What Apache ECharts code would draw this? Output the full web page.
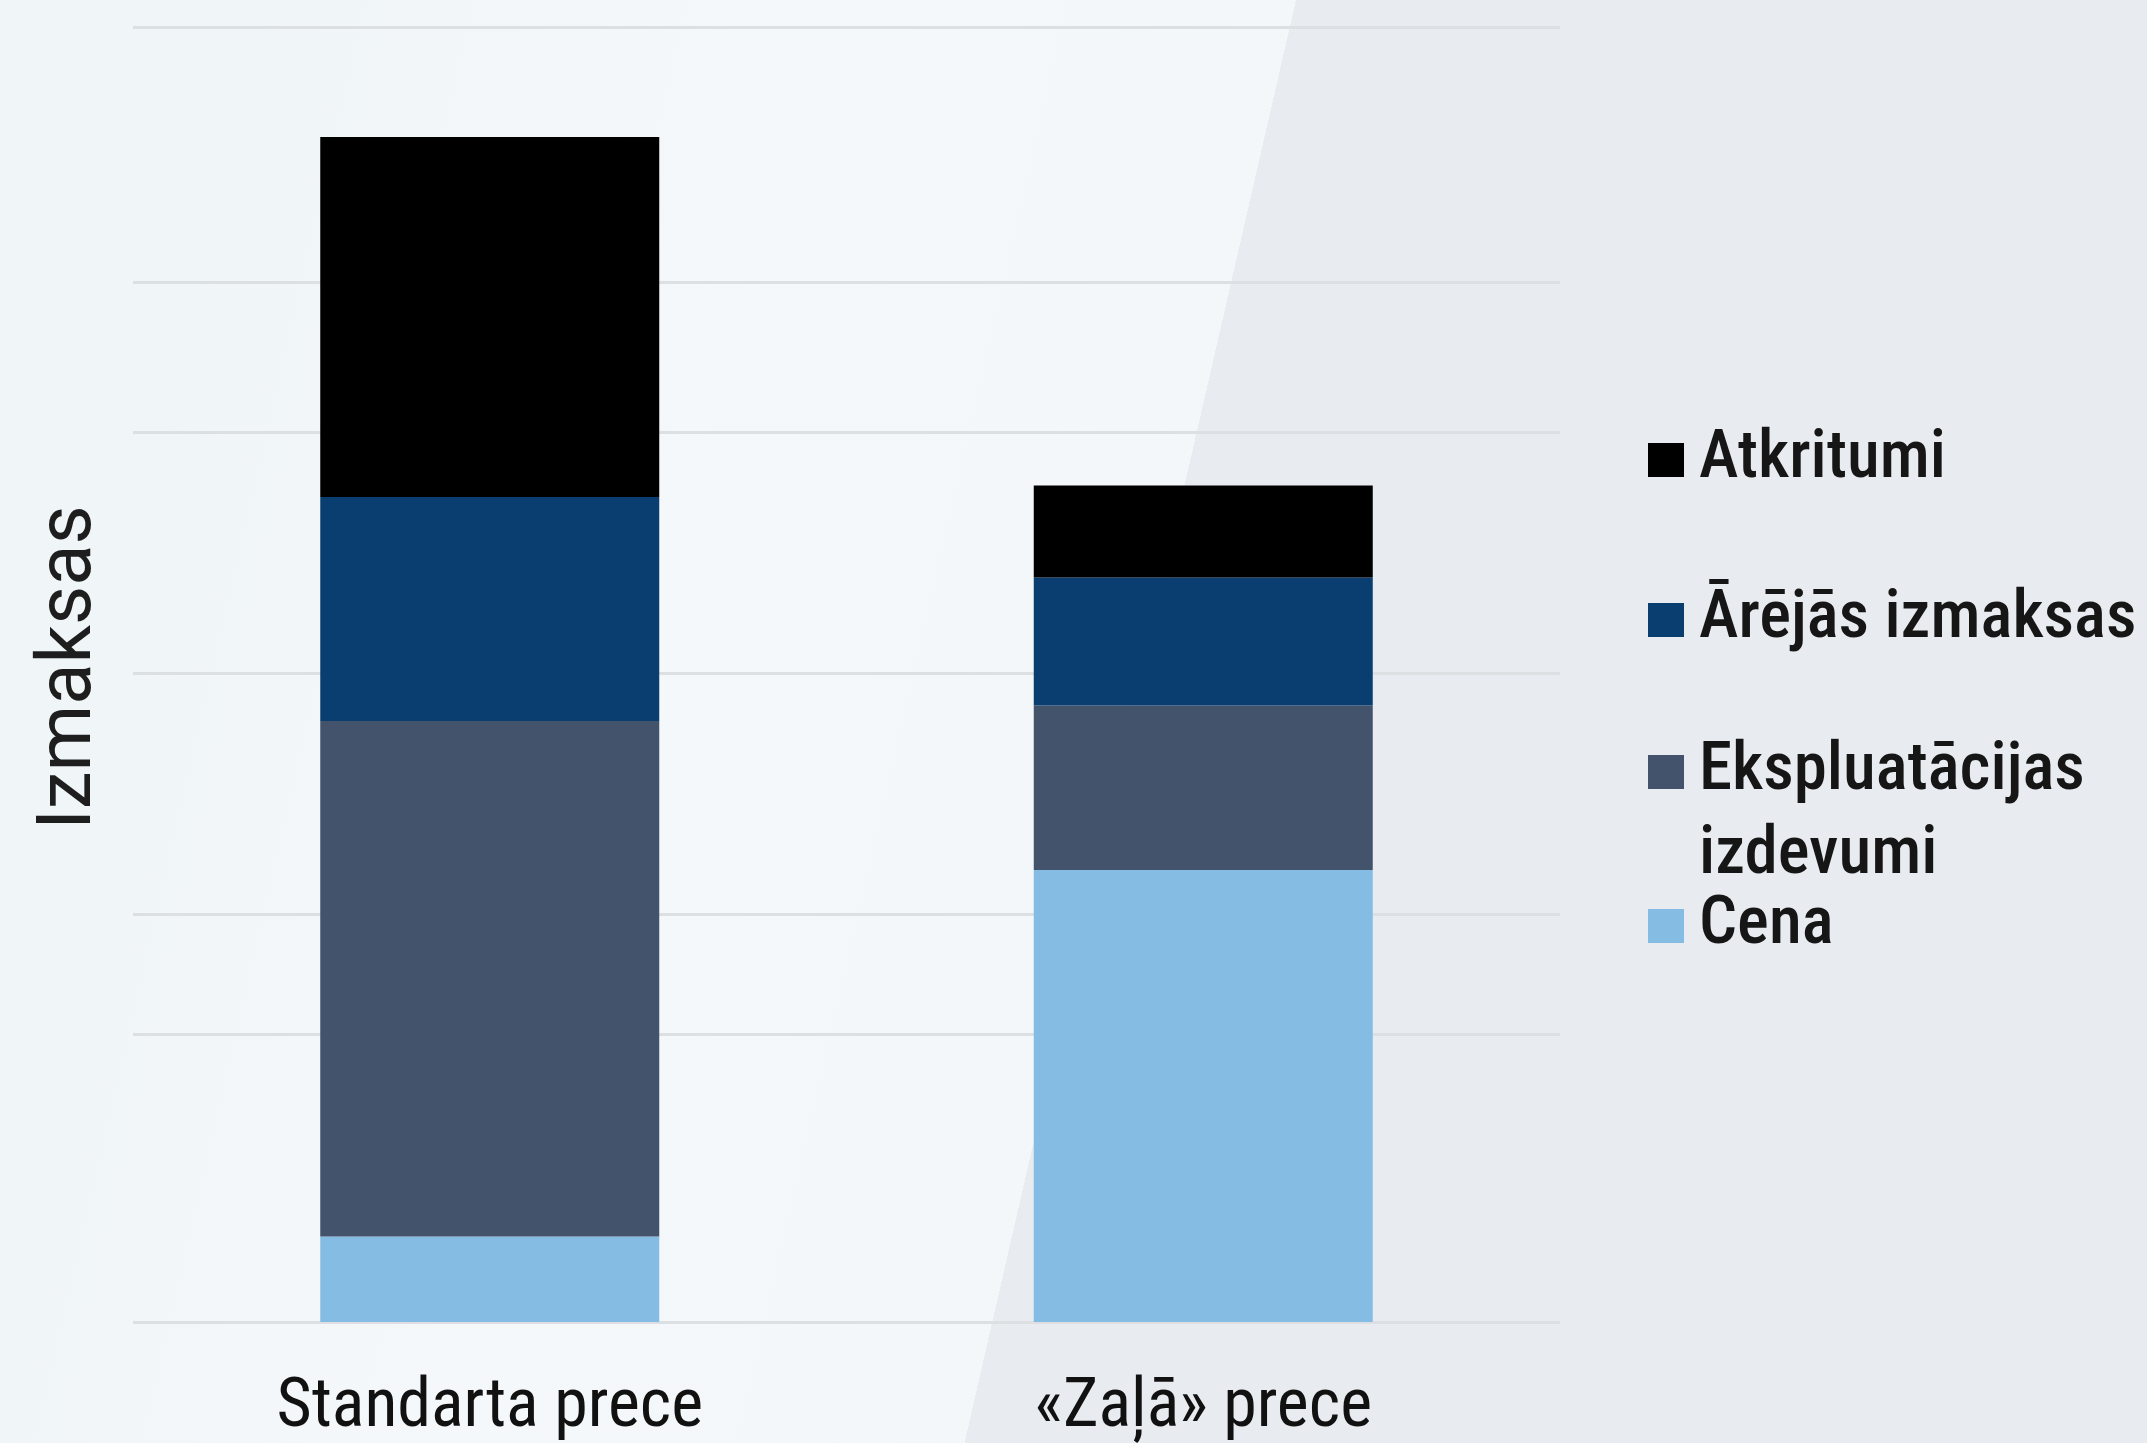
<!DOCTYPE html>
<html>
<head>
<meta charset="utf-8">
<title>Izmaksas</title>
<script src="https://cdn.jsdelivr.net/npm/echarts@6/dist/echarts.min.js"></script>
<style>
    html, body { margin: 0; padding: 0; }
    #chart { width: 2147px; height: 1443px; }
</style>
</head>
<body>
<div id="chart"></div>
<script>
//////////////////////////////////////////////////////////////////////////////////////////////////
//数据
var categories = ['Standarta prece', '«Zaļā» prece'];
var seriesNames = ['Cena', 'Ekspluatācijas izdevumi', 'Ārējās izmaksas', 'Atkritumi'];
var cena = [6.6, 34.9];
var ekspluatacija = [39.8, 12.7];
var arejas = [17.3, 9.9];
var atkritumi = [27.8, 7.1];
var gridValues = [0, 22.2, 31.5, 50.1, 68.7, 80.3, 100];
//////////////////////////////////////////////////////////////////////////////////////////////////
var colors = ['#85bce4', '#42536b', '#0b3e70', '#000000'];
var narrowFont = "'Roboto Condensed', 'Liberation Sans Narrow', 'Arial Narrow', Roboto, sans-serif";

function makeLegend(name, top, formatter){
    return {
        orient: 'vertical',
        left: 1648,
        top: top,
        padding: 0,
        data: [name],
        icon: 'rect',
        itemWidth: 36,
        itemHeight: 34,
        selectedMode: false,
        formatter: formatter,
        textStyle: {
            fontFamily: narrowFont,
            fontSize: 67,
            fontWeight: 500,
            lineHeight: 84,
            color: '#161616',
            padding: [0, 0, 0, 10]
        }
    };
}

window.onload = function(){
    var chart = echarts.init(document.getElementById('chart'), null, {renderer: 'canvas'});
    var data = [cena, ekspluatacija, arejas, atkritumi];
    var series = [];
    for(var i = 0; i < seriesNames.length; i++){
        var s = {
            name: seriesNames[i],
            type: 'bar',
            stack: 'total',
            barWidth: 339,
            itemStyle: {color: colors[i]},
            data: data[i]
        };
        if(i == 0){
            s.markLine = {         //不规则的网格线
                silent: true,
                symbol: 'none',
                z: 1,
                label: {show: false},
                lineStyle: {color: '#dce0e3', width: 3, type: 'solid'},
                data: gridValues.map(function(v){ return {yAxis: v}; })
            };
        }
        series.push(s);
    }

    chart.setOption({
        animation: false,
        backgroundColor: {
            type: 'linear', global: true,
            x: 321, y: -224, x2: 2271, y2: 224,
            colorStops: [
                {offset: 0, color: '#f0f5f7'},
                {offset: 0.25, color: '#f5f8fa'},
                {offset: 0.5, color: '#f4f7f9'},
                {offset: 0.5, color: '#e8ebef'},
                {offset: 1, color: '#e8ebef'}
            ]
        },
        grid: {left: 133, right: 587, top: 27, bottom: 118},
        legend: [
            makeLegend('Atkritumi', 418),
            makeLegend('Ārējās izmaksas', 578),
            makeLegend('Ekspluatācijas izdevumi', 646, function(){ return '\nEkspluatācijas\nizdevumi'; }),
            makeLegend('Cena', 884)
        ],
        xAxis: {
            type: 'category',
            data: categories,
            axisLine: {show: false},
            axisTick: {show: false},
            axisLabel: {
                fontFamily: narrowFont,
                fontSize: 68,
                color: '#111111',
                margin: 53
            }
        },
        yAxis: {
            type: 'value',
            min: 0,
            max: 100,
            axisLabel: {show: false},
            axisLine: {show: false},
            axisTick: {show: false},
            splitLine: {show: false},
            name: 'Izmaksas',
            nameLocation: 'middle',
            nameGap: 24,
            nameTextStyle: {
                fontFamily: 'Roboto, sans-serif',
                fontSize: 76,
                color: '#1e1e1e',
                padding: [0, 0, 0, 14]
            }
        },
        series: series
    });
};
</script>
</body>
</html>
